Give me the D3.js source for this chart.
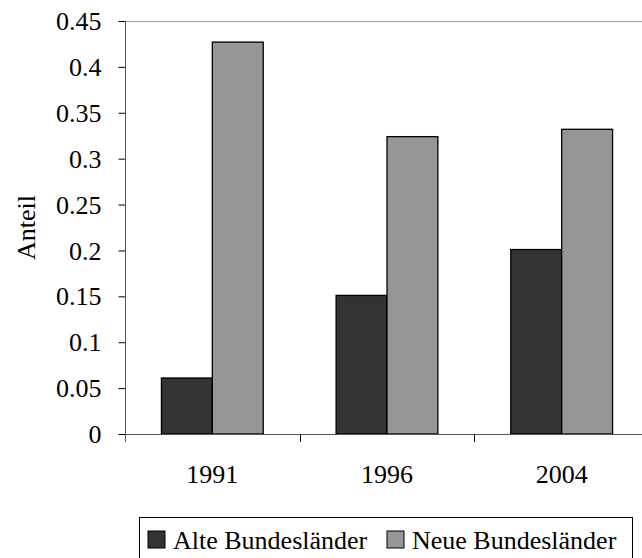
<!DOCTYPE html>
<html lang="de">
<head>
<meta charset="utf-8">
<title>Anteil</title>
<script src="https://d3js.org/d3.v7.min.js"></script>
<style>
  body { margin: 0; background: #fff; }
  text { font-family: "Liberation Serif", "Times New Roman", serif; fill: #000; }
</style>
</head>
<body>
<script>
// data
var years = ["1991", "1996", "2004"];
var seriesNames = ["Alte Bundesländer", "Neue Bundesländer"];
var alte = [0.061, 0.151, 0.201];
var neue = [0.427, 0.324, 0.332];
var yTicks = [0, 0.05, 0.1, 0.15, 0.2, 0.25, 0.3, 0.35, 0.4, 0.45];
var colors = ["#333333", "#969696"];

var width = 642, height = 558;
var plotLeft = 125, plotRight = 649, plotTop = 21, plotBottom = 434;

var svg = d3.select("body").append("svg")
    .attr("width", width)
    .attr("height", height);

var y = d3.scaleLinear().domain([0, 0.45]).range([plotBottom, plotTop]);
var x0 = d3.scaleBand().domain(years).range([plotLeft, plotRight]).padding(0);
var x1 = d3.scaleBand().domain(seriesNames).range([0, x0.bandwidth()])
    .paddingInner(0).paddingOuter(0.716);

var rows = years.map(function (yr, i) {
    return {year: yr, values: [alte[i], neue[i]]};
});

// top border of plot area
svg.append("line")
    .attr("x1", plotLeft).attr("x2", width)
    .attr("y1", plotTop + 0.5).attr("y2", plotTop + 0.5)
    .attr("stroke", "#a0a0a0");

// bars
svg.append("g").selectAll("g")
    .data(rows)
    .join("g")
    .attr("transform", function (d) { return "translate(" + x0(d.year) + ",0)"; })
    .selectAll("rect")
    .data(function (d) { return d.values.map(function (v, i) { return {name: seriesNames[i], v: v, i: i}; }); })
    .join("rect")
    .attr("x", function (d) { return x1(d.name); })
    .attr("y", function (d) { return y(d.v); })
    .attr("width", x1.bandwidth())
    .attr("height", function (d) { return plotBottom - y(d.v); })
    .attr("fill", function (d) { return colors[d.i]; })
    .attr("stroke", "#000")
    .attr("stroke-width", 1.3);

// y axis
var yAxis = svg.append("g")
    .attr("transform", "translate(" + (plotLeft + 0.5) + ",0)")
    .call(d3.axisLeft(y).tickValues(yTicks).tickSize(7).tickPadding(17)
        .tickFormat(function (d) { return String(+d.toFixed(2)); }));
yAxis.select(".domain").remove();
yAxis.selectAll(".tick line").attr("stroke", "#000");
yAxis.selectAll("text").style("font-size", "26px").attr("dy", "0.33em");
svg.append("line")
    .attr("x1", plotLeft + 0.5).attr("x2", plotLeft + 0.5)
    .attr("y1", plotTop).attr("y2", plotBottom + 8)
    .attr("stroke", "#555");

// x axis
svg.append("line")
    .attr("x1", plotLeft).attr("x2", width)
    .attr("y1", plotBottom + 0.5).attr("y2", plotBottom + 0.5)
    .attr("stroke", "#555");
svg.append("g").selectAll("line")
    .data(years.slice(1))
    .join("line")
    .attr("x1", function (d) { return Math.round(x0(d)) + 0.5; })
    .attr("x2", function (d) { return Math.round(x0(d)) + 0.5; })
    .attr("y1", plotBottom).attr("y2", plotBottom + 8)
    .attr("stroke", "#000");
svg.append("g").selectAll("text")
    .data(years)
    .join("text")
    .attr("x", function (d) { return x0(d) + x0.bandwidth() / 2; })
    .attr("y", 483)
    .attr("text-anchor", "middle")
    .style("font-size", "26px")
    .text(function (d) { return d; });

// y axis title
svg.append("text")
    .attr("transform", "translate(35," + ((plotTop + plotBottom) / 2) + ") rotate(-90)")
    .attr("text-anchor", "middle")
    .style("font-size", "26px")
    .text("Anteil");

// legend
svg.append("rect")
    .attr("x", 139.5).attr("y", 517.5)
    .attr("width", 493).attr("height", 60)
    .attr("fill", "#fff")
    .attr("stroke", "#000");
var legendX = [148, 387];
var leg = svg.append("g").selectAll("g")
    .data(seriesNames)
    .join("g")
    .attr("transform", function (d, i) { return "translate(" + legendX[i] + ",531)"; });
leg.append("rect")
    .attr("width", 17).attr("height", 17)
    .attr("fill", function (d, i) { return colors[i]; })
    .attr("stroke", "#000");
leg.append("text")
    .attr("x", 25).attr("y", 18)
    .style("font-size", "26px")
    .text(function (d) { return d; });
</script>
</body>
</html>
